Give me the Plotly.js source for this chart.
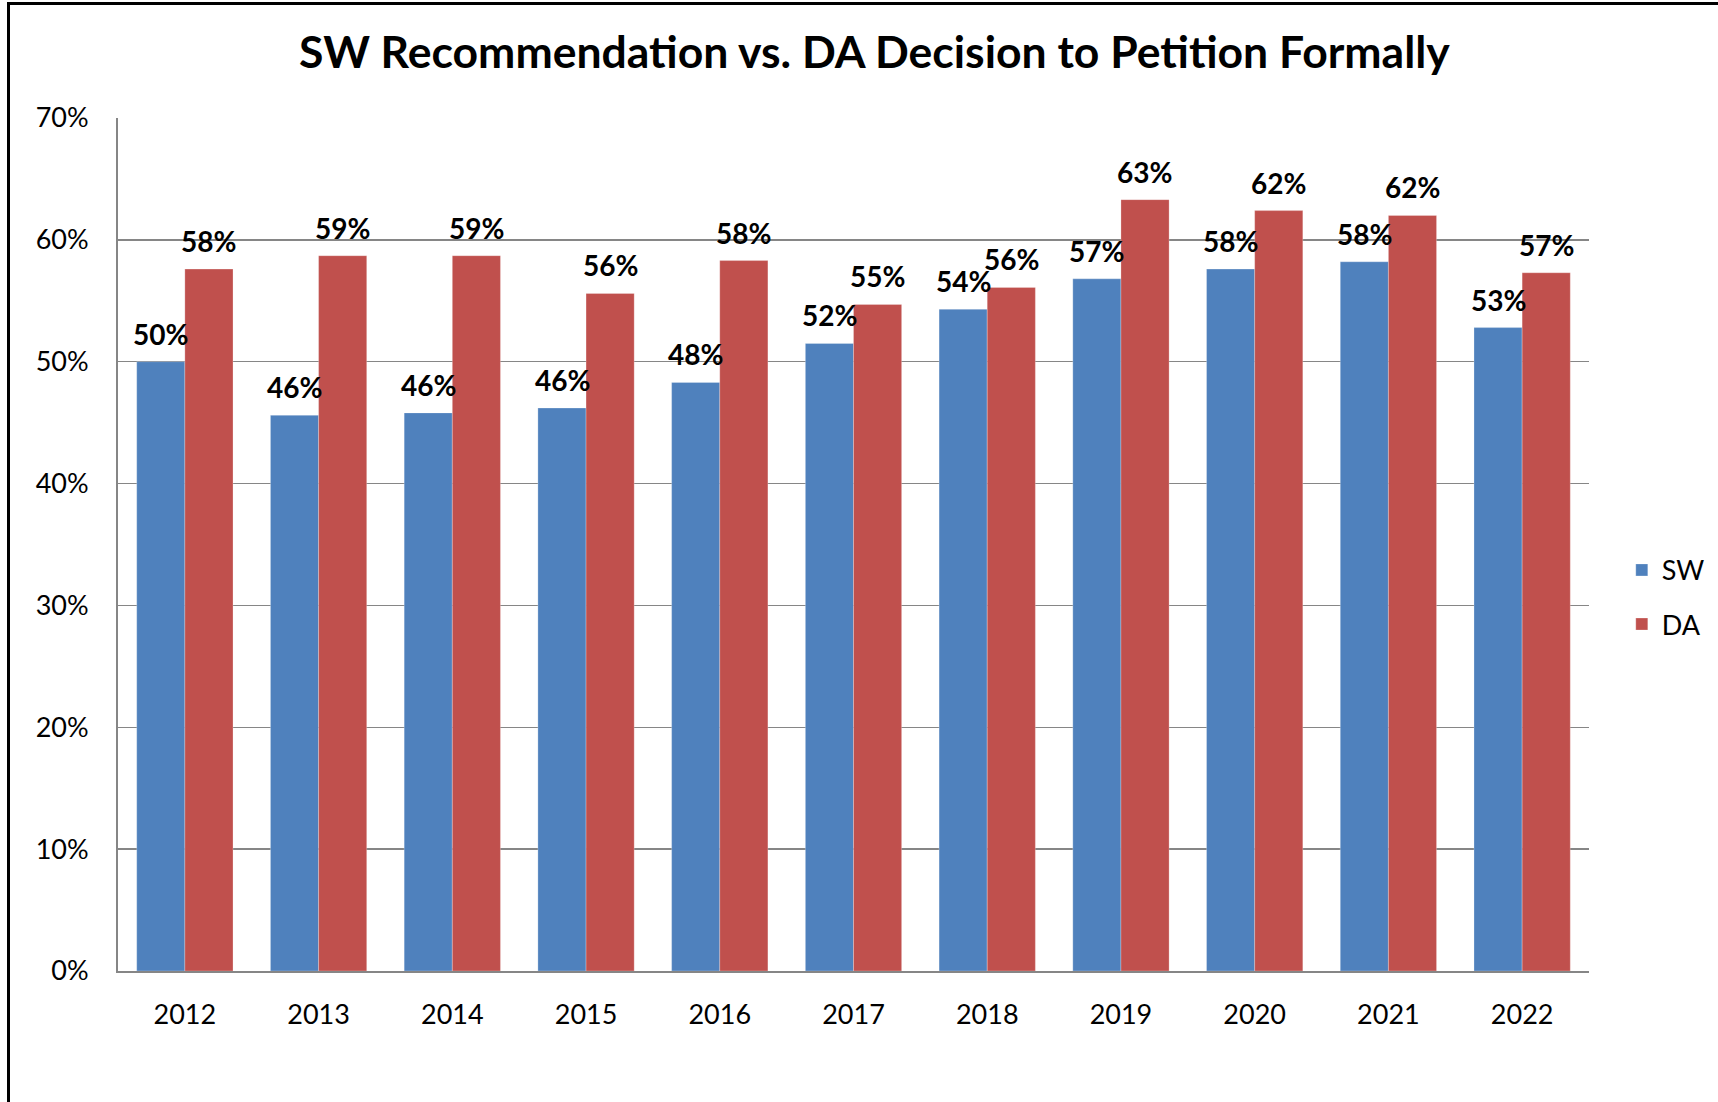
<!DOCTYPE html>
<html>
<head>
<meta charset="utf-8">
<script src="https://cdn.plot.ly/plotly-3.0.1.min.js"></script>
<style>
  html, body { margin: 0; padding: 0; background: #fff; }
  #chart { width: 1718px; height: 1102px; position: absolute; left: 0; top: 0; }
  #frame { position: absolute; left: 7px; top: 2px; width: 1720px; height: 1110px;
           border-left: 3px solid #000; border-top: 3px solid #000; pointer-events: none; }
</style>
</head>
<body>
<div id="chart"></div>
<div id="frame"></div>
<script>
const years = ['2012','2013','2014','2015','2016','2017','2018','2019','2020','2021','2022'];
const swValues = [0.500, 0.456, 0.458, 0.462, 0.483, 0.515, 0.543, 0.568, 0.576, 0.582, 0.528];
const daValues = [0.576, 0.587, 0.587, 0.556, 0.583, 0.547, 0.561, 0.633, 0.624, 0.620, 0.573];
const seriesNames = ['SW', 'DA'];
const yTicks = [0, 0.1, 0.2, 0.3, 0.4, 0.5, 0.6, 0.7];

const FONT = 'Lato, "Open Sans", sans-serif';
const colors = ['#4F81BD', '#C0504D'];

const traces = [swValues, daValues].map((vals, k) => ({
  type: 'bar',
  name: seriesNames[k],
  x: years,
  y: vals,
  legendgroup: 'g' + k,
  marker: { color: colors[k], line: { color: 'rgba(255,255,255,0.5)', width: 0.5 } },
  hoverinfo: 'x+y'
}));

const fmt = v => '<b>' + Math.round(v * 100) + '%</b>';
const annotations = [];
[swValues, daValues].forEach((vals, k) => {
  vals.forEach((v, i) => {
    annotations.push({
      x: i, y: v, xref: 'x', yref: 'y',
      text: fmt(v), showarrow: false,
      xshift: k === 0 ? -24 : 24, yshift: 28,
      yanchor: 'middle', xanchor: 'center',
      font: { family: FONT, size: 28, color: '#000' }
    });
  });
});

const layout = {
  width: 1718, height: 1102,
  paper_bgcolor: '#fff', plot_bgcolor: '#fff',
  margin: { l: 118, r: 129, t: 118, b: 131, autoexpand: false },
  font: { family: FONT, color: '#000' },
  title: {
    text: '<b>SW Recommendation vs. DA Decision to Petition Formally</b>',
    x: 0.509, xanchor: 'center', xref: 'container',
    y: 0.952, yanchor: 'middle', yref: 'container',
    font: { family: FONT, size: 44.5, color: '#000' }
  },
  barmode: 'group',
  bargap: 0.28,
  bargroupgap: 0,
  xaxis: {
    type: 'category',
    range: [-0.5, years.length - 0.5],
    showline: true, linecolor: '#868686', linewidth: 2,
    ticks: '', showgrid: false,
    tickfont: { family: FONT, size: 27, color: '#000' },
    ticklabelstandoff: 19
  },
  yaxis: {
    range: [0, 0.7],
    tickvals: yTicks,
    tickformat: '.0%',
    showline: true, linecolor: '#868686', linewidth: 2,
    showgrid: true, gridcolor: '#868686', gridwidth: 1.5,
    zeroline: false,
    ticks: '',
    tickfont: { family: FONT, size: 27, color: '#000' },
    ticklabelstandoff: 22
  },
  legend: {
    xref: 'container', x: 0.944, xanchor: 'left',
    y: 0.438, yanchor: 'middle',
    traceorder: 'grouped', tracegroupgap: 16,
    font: { family: FONT, size: 27, color: '#000' },
    bgcolor: 'rgba(0,0,0,0)'
  },
  annotations: annotations
};

Plotly.newPlot('chart', traces, layout, { displayModeBar: false, staticPlot: true });
</script>
</body>
</html>
